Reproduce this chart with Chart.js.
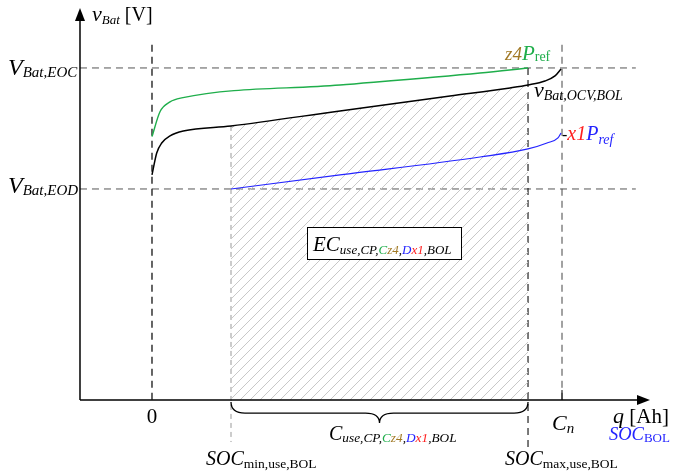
<!DOCTYPE html>
<html><head><meta charset="utf-8">
<script src="https://cdn.jsdelivr.net/npm/chart.js@4"></script>
<style>html,body{margin:0;padding:0;background:#fff}</style>
</head><body>
<canvas id="c" width="673" height="474"></canvas>
<script>
// q as % of C_n, v in volts (schematic)
const qOcv = [0, 1.15, 2.37, 4.39, 7.63, 19.27, 45.85, 72.68, 87.32, 91.71, 95.85, 98.29, 99.76];
const vOcv = [3.139, 3.357, 3.456, 3.526, 3.575, 3.625, 3.774, 3.922, 4.002, 4.031, 4.071, 4.121, 4.19];
const qCharge = [0, 1.95, 4.39, 7.24, 45.85, 80, 91.71];
const vCharge = [3.519, 3.766, 3.863, 3.903, 4.031, 4.15, 4.2];
const qDischarge = [19.27, 45.85, 80, 91.71, 96.34, 99.02, 99.76];
const vDischarge = [3.0, 3.139, 3.317, 3.397, 3.456, 3.506, 3.555];
const vEOC = 4.2, vEOD = 3.0;
const socMin = 19.27, socMax = 91.71, cN = 100;
// axis frame
const qAxis = [-17.56, 121.46];
const vAxis = [0.907, 4.795];

const GREEN = '#1fae4b', BLUE = '#2424ff', RED = '#ff2020', BROWN = '#a27a26';
const F = '"Liberation Serif","Times New Roman",serif';

const pts = (xs, ys) => xs.map((x, i) => ({x: x, y: ys[i]}));
const hatchPts = pts(qOcv, vOcv).filter(p => p.x >= socMin && p.x <= socMax);

function hatch() {
  const c = document.createElement('canvas');
  c.width = 10; c.height = 10;
  const g = c.getContext('2d');
  g.strokeStyle = '#c8c8c8';
  g.lineWidth = 1;
  g.beginPath();
  g.moveTo(-1, 11); g.lineTo(11, -1);
  g.moveTo(-1, 1); g.lineTo(1, -1);
  g.moveTo(9, 11); g.lineTo(11, 9);
  g.stroke();
  return g.createPattern(c, 'repeat');
}

function rich(ctx, x, y, runs) {
  for (const [t, size, it, col, dy] of runs) {
    ctx.font = (it ? 'italic ' : '') + size + 'px ' + F;
    ctx.fillStyle = col || '#000';
    ctx.fillText(t, x, y + (dy || 0));
    x += ctx.measureText(t).width;
  }
  return x;
}

function dline(ctx, x1, y1, x2, y2, col, w, dash) {
  ctx.save();
  ctx.strokeStyle = col; ctx.lineWidth = w; ctx.setLineDash(dash);
  ctx.beginPath(); ctx.moveTo(x1, y1); ctx.lineTo(x2, y2); ctx.stroke();
  ctx.restore();
}

const frame = {
  id: 'frame',
  beforeDatasetsDraw(chart) {
    const ctx = chart.ctx, X = v => chart.scales.x.getPixelForValue(v), Y = v => chart.scales.y.getPixelForValue(v);
    const x0 = X(qAxis[0]), y0 = Y(vAxis[0]);
    const top = Y(4.43), right = X(118);
    // reference lines
    dline(ctx, x0, Y(vEOC), right, Y(vEOC), '#555', 1, [7, 5]);
    dline(ctx, x0, Y(vEOD), right, Y(vEOD), '#555', 1, [7, 5]);
    dline(ctx, X(0), top, X(0), y0, '#333', 1.5, [7, 5]);
    dline(ctx, X(cN), top, X(cN), y0, '#444', 1, [7, 5]);
    dline(ctx, X(socMax), Y(vEOC), X(socMax), y0 + 50, '#222', 1.2, [7, 5]);
    dline(ctx, X(socMin), Y(3.625), X(socMin), y0 + 42, '#999', 1, [5, 4]);
  },
  afterDatasetsDraw(chart) {
    const ctx = chart.ctx, X = v => chart.scales.x.getPixelForValue(v), Y = v => chart.scales.y.getPixelForValue(v);
    const x0 = X(qAxis[0]), y0 = Y(vAxis[0]), xe = X(qAxis[1]), ye = Y(vAxis[1]);
    ctx.save();
    ctx.strokeStyle = '#000'; ctx.fillStyle = '#000'; ctx.lineWidth = 1.5;
    ctx.beginPath(); ctx.moveTo(x0, y0); ctx.lineTo(x0, ye + 10); ctx.stroke();
    ctx.beginPath(); ctx.moveTo(x0, y0); ctx.lineTo(xe - 8, y0); ctx.stroke();
    ctx.beginPath(); ctx.moveTo(x0, ye); ctx.lineTo(x0 - 5, ye + 13); ctx.lineTo(x0 + 5, ye + 13); ctx.closePath(); ctx.fill();
    ctx.beginPath(); ctx.moveTo(xe, y0); ctx.lineTo(xe - 13, y0 - 5); ctx.lineTo(xe - 13, y0 + 5); ctx.closePath(); ctx.fill();
    // C_n tick
    ctx.lineWidth = 1;
    ctx.beginPath(); ctx.moveTo(X(cN), y0 - 10); ctx.lineTo(X(cN), y0); ctx.stroke();

    // brace
    const xa = X(socMin), xb = X(socMax), xm = (xa + xb) / 2, by = y0 + 2;
    ctx.lineWidth = 1.3;
    ctx.beginPath();
    ctx.moveTo(xa, by);
    ctx.quadraticCurveTo(xa, by + 11, xa + 14, by + 11);
    ctx.lineTo(xm - 14, by + 11);
    ctx.quadraticCurveTo(xm, by + 11, xm, by + 21);
    ctx.quadraticCurveTo(xm, by + 11, xm + 14, by + 11);
    ctx.lineTo(xb - 14, by + 11);
    ctx.quadraticCurveTo(xb, by + 11, xb, by);
    ctx.stroke();

    // EC box
    ctx.fillStyle = '#fff';
    ctx.fillRect(307, 227, 154, 32);
    ctx.strokeStyle = '#000'; ctx.lineWidth = 1;
    ctx.strokeRect(307.5, 227.5, 154, 32);
    rich(ctx, 313, 251, [['EC', 21, 1], ['use,CP,', 13, 1, '#000', 3], ['C', 13, 1, GREEN, 3], ['z4', 13, 1, BROWN, 3],
      [',', 13, 1, '#000', 3], ['D', 13, 1, BLUE, 3], ['x1', 13, 1, RED, 3], [',BOL', 13, 1, '#000', 3]]);

    // labels
    rich(ctx, 92, 21, [['v', 22, 1], ['Bat', 13, 1, '#000', 3], [' [V]', 20, 0]]);
    rich(ctx, 8, Y(vEOC) + 7, [['V', 24, 1], ['Bat,EOC', 15, 1, '#000', 2]]);
    rich(ctx, 8, Y(vEOD) + 4, [['V', 24, 1], ['Bat,EOD', 15, 1, '#000', 2]]);
    rich(ctx, 505, 60, [['z4', 19, 1, BROWN], ['P', 21, 1, GREEN], ['ref', 14, 0, GREEN, 1]]);
    rich(ctx, 534, 97, [['v', 22, 1], ['Bat,OCV,BOL', 14, 1, '#000', 3]]);
    rich(ctx, 562, 140, [['-', 16, 0], ['x1', 20, 1, RED], ['P', 20, 1, BLUE], ['ref', 14, 1, BLUE, 4]]);
    ctx.textAlign = 'center';
    rich(ctx, X(0), y0 + 23, [['0', 21, 0]]);
    ctx.textAlign = 'left';
    rich(ctx, 329, 440, [['C', 20, 1], ['use,CP,', 13.3, 1, '#000', 2], ['C', 13.3, 1, GREEN, 2], ['z4', 13.3, 1, BROWN, 2],
      [',', 13.3, 1, '#000', 2], ['D', 13.3, 1, BLUE, 2], ['x1', 13.3, 1, RED, 2], [',BOL', 13.3, 1, '#000', 2]]);
    rich(ctx, 206, 465, [['SOC', 20, 1], ['min,use,BOL', 13.5, 0, '#000', 3]]);
    rich(ctx, 505, 465, [['SOC', 20, 1], ['max,use,BOL', 13.5, 0, '#000', 3]]);
    rich(ctx, 552, 430, [['C', 22, 1], ['n', 15, 1, '#000', 3]]);
    rich(ctx, 613, 423, [['q', 22, 1], [' [Ah]', 21, 0]]);
    rich(ctx, 609, 440, [['SOC', 18.5, 1, BLUE], ['BOL', 13, 0, BLUE, 2]]);
    ctx.restore();
  }
};

new Chart(document.getElementById('c'), {
  type: 'line',
  data: {
    datasets: [
      {data: hatchPts, borderWidth: 0, pointRadius: 0, fill: {value: vAxis[0]}, backgroundColor: hatch(), order: 10, cubicInterpolationMode: 'monotone'},
      {data: pts(qOcv, vOcv), borderColor: '#000', borderWidth: 1.5, pointRadius: 0, fill: false, cubicInterpolationMode: 'monotone'},
      {data: pts(qCharge, vCharge), borderColor: GREEN, borderWidth: 1.4, pointRadius: 0, fill: false, cubicInterpolationMode: 'monotone'},
      {data: pts(qDischarge, vDischarge), borderColor: BLUE, borderWidth: 1.2, pointRadius: 0, fill: false, cubicInterpolationMode: 'monotone'}
    ]
  },
  options: {
    responsive: false,
    devicePixelRatio: 1,
    animation: false,
    layout: {padding: 0},
    plugins: {legend: {display: false}, tooltip: {enabled: false}},
    scales: {
      x: {type: 'linear', min: -37.07, max: 127.07, display: false},
      y: {type: 'linear', min: 0.1735, max: 4.874, display: false}
    }
  },
  plugins: [frame]
});
</script>
</body></html>
